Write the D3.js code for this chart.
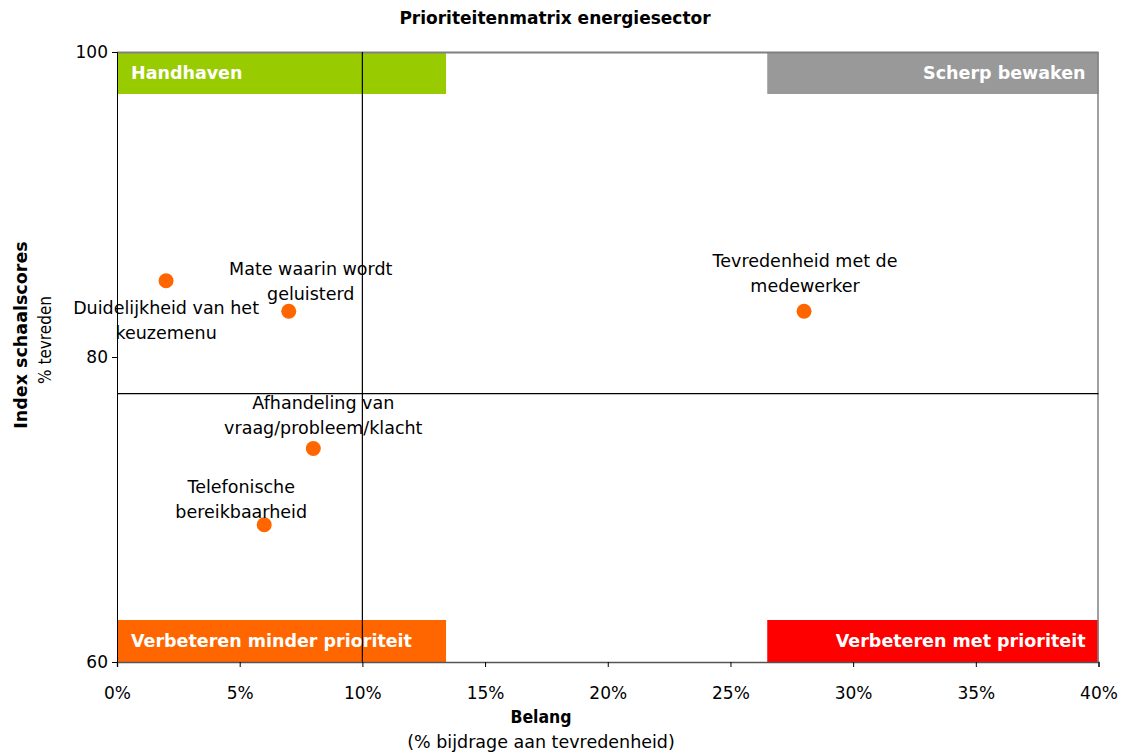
<!DOCTYPE html>
<html><head><meta charset="utf-8">
<script src="https://cdn.jsdelivr.net/npm/d3@7"></script>
<style>
body{margin:0;background:#fff;}
svg text{font-family:"DejaVu Sans",sans-serif;}
.cond{font-family:"DejaVu Sans Condensed","DejaVu Sans",sans-serif;}
</style></head>
<body><svg id="c" width="1126" height="755"></svg>
<script>
// data
const items = ["Duidelijkheid van het|keuzemenu","Mate waarin wordt|geluisterd","Afhandeling van|vraag/probleem/klacht","Telefonische|bereikbaarheid","Tevredenheid met de|medewerker"];
const belang = [2, 7, 8, 6, 28];
const scores = [85, 83, 74, 69, 83];
const xTicks = [0, 5, 10, 15, 20, 25, 30, 35, 40];
const yTicks = [60, 80, 100];
const refX = 10;
const refY = 77.6;
const quadrants = ["Handhaven","Scherp bewaken","Verbeteren minder prioriteit","Verbeteren met prioriteit"];
const quadXRange = [[0,13.41],[26.5,40],[0,13.41],[26.5,40]];
// layout / style
const labelOffsets = [[0,27],[22,-42],[10,-46],[-23,-38],[1,-50]];
const quadColors = ["#99CC00","#999999","#FF6600","#FF0000"];

const svg = d3.select("#c");
const L=117, R=1098.5, T=52, B=662;
const x = d3.scaleLinear().domain([0,40]).range([L,R]);
const y = d3.scaleLinear().domain([60,100]).range([B,T]);

// quadrant boxes
const boxH = 42;
const qTop = [true,true,false,false];
quadrants.forEach((q,i)=>{
  const left = quadXRange[i][0]===0;
  const x0 = x(quadXRange[i][0]), x1 = x(quadXRange[i][1]);
  const y0 = qTop[i] ? y(100) : y(60)-boxH;
  svg.append("rect").attr("x",x0).attr("y",y0).attr("width",x1-x0).attr("height",boxH).attr("fill",quadColors[i]);
  svg.append("text").attr("x", left ? x0+14 : x1-13).attr("y", y0+boxH/2+6)
    .attr("text-anchor", left?"start":"end").attr("fill","#fff").attr("font-weight","bold").attr("font-size","17.5px").text(q);
});

// borders
svg.append("line").attr("x1",L).attr("x2",R).attr("y1",T+0.5).attr("y2",T+0.5).attr("stroke","#808080").attr("stroke-width",2);
svg.append("line").attr("x1",R-0.5).attr("x2",R-0.5).attr("y1",T).attr("y2",B).attr("stroke","#808080").attr("stroke-width",1.5);

// reference lines
svg.append("line").attr("x1",x(refX)).attr("x2",x(refX)).attr("y1",T).attr("y2",B).attr("stroke","#000").attr("stroke-width",1.2);
svg.append("line").attr("x1",L).attr("x2",R).attr("y1",y(refY)).attr("y2",y(refY)).attr("stroke","#000").attr("stroke-width",1.2);

// axes
const xAxis = svg.append("g").attr("transform",`translate(0,${B})`)
  .call(d3.axisBottom(x).tickValues(xTicks).tickFormat(d=>d+"%").tickSize(5).tickPadding(20));
const yAxis = svg.append("g").attr("transform",`translate(${L},0)`)
  .call(d3.axisLeft(y).tickValues(yTicks).tickSize(5).tickPadding(4));
[xAxis,yAxis].forEach(a=>{
  a.selectAll("text").attr("font-size","17px").attr("fill","#000").attr("font-family",'"DejaVu Sans Condensed","DejaVu Sans",sans-serif');
  a.selectAll("line").attr("stroke","#000");
});
xAxis.select(".domain").attr("stroke","#555").attr("stroke-width",1.5);
yAxis.select(".domain").attr("stroke","#000");

// points
const data = items.map((t,i)=>({t, b:belang[i], s:scores[i], o:labelOffsets[i]}));
svg.selectAll("circle.pt").data(data).enter().append("circle").attr("class","pt")
  .attr("cx",d=>x(d.b)).attr("cy",d=>y(d.s)).attr("r",7.5).attr("fill","#FF6600");
data.forEach(d=>{
  const lines = d.t.split("|");
  const t = svg.append("text").attr("text-anchor","middle").attr("font-size","17.5px").attr("fill","#000");
  lines.forEach((ln,k)=>{
    t.append("tspan").attr("x",x(d.b)+d.o[0]).attr("y",y(d.s)+d.o[1]+6+k*25).text(ln);
  });
});

// titles
svg.append("text").attr("x",555).attr("y",24).attr("text-anchor","middle").attr("font-weight","bold").attr("font-size","17px").text("Prioriteitenmatrix energiesector");
svg.append("text").attr("class","cond").attr("x",541).attr("y",723).attr("text-anchor","middle").attr("font-weight","bold").attr("font-size","17.5px").text("Belang");
svg.append("text").attr("x",541).attr("y",748).attr("text-anchor","middle").attr("font-size","17.5px").text("(% bijdrage aan tevredenheid)");
svg.append("text").attr("transform","translate(27,335) rotate(-90)").attr("text-anchor","middle").attr("font-weight","bold").attr("font-size","17.5px").text("Index schaalscores");
svg.append("text").attr("class","cond").attr("transform","translate(51,340) rotate(-90)").attr("text-anchor","middle").attr("font-size","17px").text("% tevreden");
</script></body></html>
